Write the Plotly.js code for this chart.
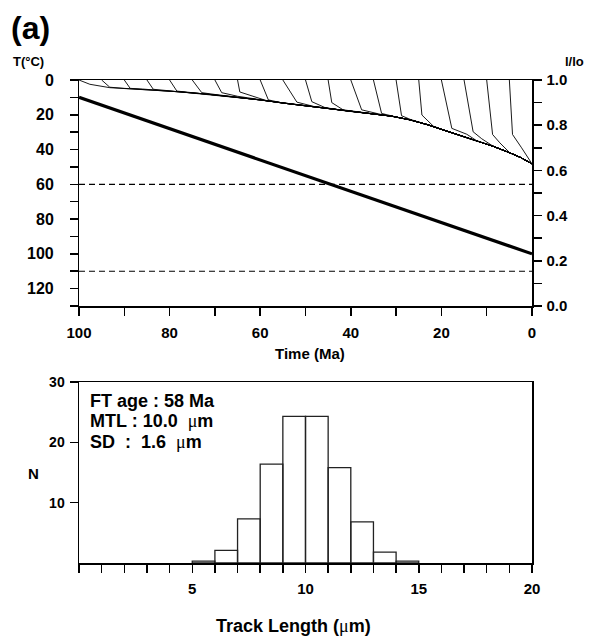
<!DOCTYPE html>
<html>
<head>
<meta charset="utf-8">
<script src="https://cdn.plot.ly/plotly-3.0.1.min.js"></script>
<style>body{margin:0;padding:0;background:#fff}#chart{width:590px;height:640px}</style>
</head>
<body>
<div id="chart"></div>
<script>
// ---- Top panel: thermal history + track annealing ----
const timeTicks = [0,10,20,30,40,50,60,70,80,90,100];
const timeLabels = ['0','','20','','40','','60','','80','','100'];
const tempTicks = [0,10,20,30,40,50,60,70,80,90,100,110,120,130];
const tempLabels = ['0','','20','','40','','60','','80','','100','','120',''];
const ratioTicks = [0,0.1,0.2,0.3,0.4,0.5,0.6,0.7,0.8,0.9,1.0];
const ratioLabels = ['0.0','','0.2','','0.4','','0.6','','0.8','','1.0'];

// thermal path (time Ma, T °C)
const pathT = [100, 0];
const pathTemp = [10, 100];
// partial annealing zone limits (°C)
const pazLimits = [60, 110];

// individual track histories (reduced length l/lo)
const trackStartT = [100,95,90,85,80,75,70,65,60,55,50,45,40,35,30,25,20,15,10,5];
const kneeT = [97.6,93.2,88.7,83.6,78.4,72.9,68.5,64.5,58.2,51.9,48.6,44.2,37.6,33.2,28.8,24.3,17.7,13.0,8.7,4.3];
const kneeL = [0.981,0.968,0.963,0.959,0.951,0.944,0.944,0.947,0.912,0.902,0.904,0.900,0.868,0.852,0.842,0.845,0.786,0.771,0.759,0.759];
const joinT = [93.2,90,86,81,76,70,65,58.5,55,48,45.7,41.7,32.8,29.9,26.9,21.8,14.4,11.1,7.1,2.3];
const joinL = [0.966,0.963,0.960,0.954,0.946,0.936,0.928,0.908,0.898,0.882,0.878,0.868,0.845,0.836,0.826,0.796,0.760,0.740,0.722,0.700];
// common envelope the tracks converge onto
const envT = [85,78,72,66,60,55,51,46,41,36,31,27,23,19.6,16,12.2,8.5,4.9,2.5,0];
const envL = [0.958,0.948,0.938,0.926,0.912,0.898,0.888,0.877,0.863,0.852,0.840,0.824,0.802,0.779,0.756,0.731,0.706,0.678,0.657,0.629];

// ---- Bottom panel: track length histogram ----
const binStart = [5,6,7,8,9,10,11,12,13,14];
const counts = [0.3,2.1,7.3,16.4,24.3,24.3,15.8,6.8,1.8,0.3];
const lenTicks = [0,1,2,3,4,5,6,7,8,9,10,11,12,13,14,15,16,17,18,19,20];
const lenLabels = ['','','','','','5','','','','','10','','','','','15','','','','','20'];
const nTicks = [10,20,30];
const nLabels = ['10','20','30'];

const MU = '<span style="font-family:Liberation Serif;font-weight:normal">μ</span>';
const statsLines = ['FT age : 58 Ma', 'MTL : 10.0&nbsp; ' + MU + 'm', 'SD&nbsp; :&nbsp; 1.6&nbsp; ' + MU + 'm'];

const FF = 'Liberation Sans, Arial, sans-serif';
const bold = (s) => ({family: FF, size: s, color: '#000', weight: 700});

const traces = [];
// tracks
for (let i = 0; i < trackStartT.length; i++) {
  const xs = [trackStartT[i], kneeT[i], joinT[i]];
  const ys = [1.0, kneeL[i], joinL[i]];
  for (let k = 0; k < envT.length; k++) {
    if (envT[k] < joinT[i] - 1.0) { xs.push(envT[k]); ys.push(envL[k]); }
  }
  traces.push({x: xs, y: ys, xaxis: 'x', yaxis: 'y2', mode: 'lines', line: {color: '#000', width: 0.9}, hoverinfo: 'skip'});
}
// PAZ dashed lines
pazLimits.forEach(v => traces.push({x: [100, 0], y: [v, v], xaxis: 'x', yaxis: 'y', mode: 'lines', line: {color: '#000', width: 1.2, dash: '6px,4px'}}));
// thermal path
traces.push({x: pathT, y: pathTemp, xaxis: 'x', yaxis: 'y', mode: 'lines', line: {color: '#000', width: 3.2}});
// histogram
traces.push({type: 'bar', x: binStart, y: counts, width: 1, offset: 0, xaxis: 'x2', yaxis: 'y3',
  marker: {color: 'rgba(255,255,255,0)', line: {color: '#222', width: 1.3}}});

const axBase = {showline: true, linecolor: '#000', linewidth: 1.5, ticks: 'outside', ticklen: 8, tickwidth: 1.5, tickcolor: '#000', showgrid: false, zeroline: false, fixedrange: true};

const annotations = [
  {text: '(a)', xref: 'paper', yref: 'paper', x: 9/590, y: 1 - 28/640, xanchor: 'left', yanchor: 'middle', showarrow: false, font: bold(32)},
  {text: 'T(°C)', xref: 'paper', yref: 'paper', x: 11/590, y: 1 - 61/640, xanchor: 'left', yanchor: 'middle', showarrow: false, font: bold(13)},
  {text: 'l/lo', xref: 'paper', yref: 'paper', x: 563/590, y: 1 - 61/640, xanchor: 'left', yanchor: 'middle', showarrow: false, font: bold(13)},
  {text: 'Time (Ma)', xref: 'paper', yref: 'paper', x: 310/590, y: 1 - 353/640, xanchor: 'center', yanchor: 'middle', showarrow: false, font: bold(15)},
  {text: 'N', xref: 'paper', yref: 'paper', x: 33/590, y: 1 - 473/640, xanchor: 'center', yanchor: 'middle', showarrow: false, font: bold(15)},
  {text: 'Track Length (' + MU + 'm)', xref: 'paper', yref: 'paper', x: 293/590, y: 1 - 626/640, xanchor: 'center', yanchor: 'middle', showarrow: false, font: bold(18)},
  {text: statsLines[0], xref: 'paper', yref: 'paper', x: 88/590, y: 1 - 401/640, xanchor: 'left', yanchor: 'middle', showarrow: false, font: bold(18)},
  {text: statsLines[1], xref: 'paper', yref: 'paper', x: 88/590, y: 1 - 421/640, xanchor: 'left', yanchor: 'middle', showarrow: false, font: bold(18)},
  {text: statsLines[2], xref: 'paper', yref: 'paper', x: 88/590, y: 1 - 442/640, xanchor: 'left', yanchor: 'middle', showarrow: false, font: bold(18)}
];
// left temperature tick labels (placed as in the original, well away from the axis)
tempTicks.forEach((v, i) => {
  if (tempLabels[i] !== '') {
    annotations.push({text: tempLabels[i], xref: 'paper', yref: 'y', x: 56/590, y: v, xanchor: 'right', yanchor: 'middle', showarrow: false, font: bold(16)});
  }
});

const layout = {
  width: 590, height: 640, margin: {l: 0, r: 0, t: 0, b: 0}, showlegend: false,
  paper_bgcolor: '#fff', plot_bgcolor: '#fff',
  xaxis: Object.assign({}, axBase, {domain: [79/590, 532/590], anchor: 'y', range: [100, 0], tickmode: 'array', tickvals: timeTicks, ticktext: timeLabels, tickfont: bold(15), mirror: true, ticklabelstandoff: 4}),
  yaxis: Object.assign({}, axBase, {domain: [1 - 306/640, 1 - 80/640], anchor: 'x', range: [130, 0], tickmode: 'array', tickvals: tempTicks, ticktext: tempLabels, showticklabels: false}),
  yaxis2: Object.assign({}, axBase, {overlaying: 'y', side: 'right', anchor: 'x', range: [0, 1], tickmode: 'array', tickvals: ratioTicks, ticktext: ratioLabels, tickfont: bold(15), ticklabelstandoff: 2}),
  xaxis2: Object.assign({}, axBase, {domain: [79/590, 532/590], anchor: 'y3', range: [0, 20], tickmode: 'array', tickvals: lenTicks, ticktext: lenLabels, tickfont: bold(15), mirror: true, ticklabelstandoff: 3}),
  yaxis3: Object.assign({}, axBase, {domain: [1 - 563/640, 1 - 382/640], anchor: 'x2', range: [0, 30], tickmode: 'array', tickvals: nTicks, ticktext: nLabels, tickfont: bold(14), mirror: true, ticklabelstandoff: 2}),
  annotations: annotations
};

Plotly.newPlot('chart', traces, layout, {staticPlot: true, displayModeBar: false});
</script>
</body>
</html>
